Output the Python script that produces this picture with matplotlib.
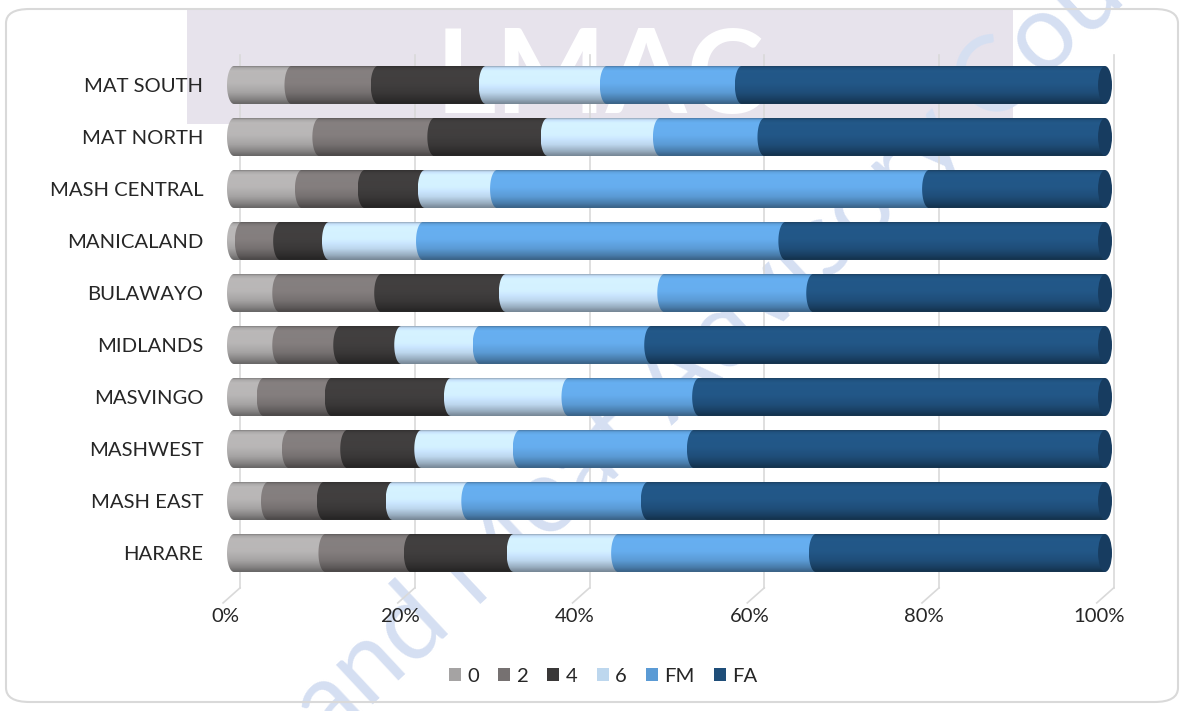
import numpy as np
import matplotlib
matplotlib.use("Agg")
import matplotlib.pyplot as plt
from matplotlib.path import Path
from matplotlib.patches import PathPatch, Ellipse, FancyBboxPatch, Rectangle
from matplotlib.transforms import ScaledTranslation
from matplotlib.colors import to_rgb

plt.rcParams['font.family'] = ['Lato', 'DejaVu Sans']

# provinces, bottom to top
provinces = ['HARARE', 'MASH EAST', 'MASHWEST', 'MASVINGO', 'MIDLANDS',
             'BULAWAYO', 'MANICALAND', 'MASH CENTRAL', 'MAT NORTH', 'MAT SOUTH']
series = ['0', '2', '4', '6', 'FM', 'FA']
colors = ['#A5A3A3', '#767171', '#3A3838', '#BDD7EE', '#5B9BD5', '#1F4E79']

# share of each class per province (%)
s0 = [10.5, 3.9, 6.3, 3.4, 5.2, 5.2, 0.9, 7.8, 9.8, 6.6]
s2 = [9.8, 6.4, 6.7, 7.8, 7.0, 11.7, 4.4, 7.2, 13.2, 9.9]
s4 = [11.8, 7.9, 8.5, 13.7, 7.0, 14.3, 5.6, 6.9, 13.0, 12.4]
s6 = [12.0, 8.7, 11.3, 13.5, 9.0, 18.2, 10.8, 8.3, 12.9, 13.9]
fm = [22.7, 20.6, 20.0, 15.0, 19.7, 17.1, 41.6, 49.6, 12.0, 15.5]
fa = [33.2, 52.5, 47.2, 46.6, 52.1, 33.5, 36.7, 20.2, 39.1, 41.7]

xticks = [0, 20, 40, 60, 80, 100]
xticklabels = ['0%', '20%', '40%', '60%', '80%', '100%']

W, H = 1184, 711
fig = plt.figure(figsize=(W / 100, H / 100), dpi=100)
fig.patch.set_facecolor('white')

# faint watermark behind the chart
fig.patches.append(Rectangle((187 / W, 1 - 124 / H), 826 / W, 114 / H,
                             transform=fig.transFigure, facecolor='#E7E3EC',
                             edgecolor='none', zorder=0))
fig.text(600 / W, 1 - 80 / H, 'LMAC', fontsize=84, fontweight='bold',
         color='white', ha='center', va='center', zorder=0.5)
fig.text(330 / W, 1 - 745 / H, 'and Meat Advisory Council', fontsize=76,
         color='#D5DFF2', rotation=43, rotation_mode='anchor',
         ha='left', va='baseline', zorder=0.6)

# rounded chart frame
fig.patches.append(FancyBboxPatch((6 / W, 9 / H), 1172 / W, 693 / H,
                                  boxstyle='round,pad=0,rounding_size=0.02',
                                  transform=fig.transFigure, facecolor='none',
                                  edgecolor='#D9D9D9', linewidth=1.5, zorder=1))

r = 0.8  # horizontal radius of the cylinder ends
ax = fig.add_axes([227 / W, 1 - 579 / H, 885 / W, 520 / H])
ax.set_facecolor('none')
ax.set_zorder(2)

# back-wall grid and floor lines
for v in xticks:
    gx = 0.7 + 1.003 * v
    ax.plot([gx, gx], [-0.67, 9.58], color='#D9D9D9', lw=1.2, zorder=0, clip_on=False)
    ax.plot([gx, gx - 1.95], [-0.67, -0.96], color='#D9D9D9', lw=1.2, zorder=0, clip_on=False)

# vertical light profile of a cylinder, top to bottom
prof_t = [0.0, 0.04, 0.12, 0.45, 0.70, 0.88, 1.0]
prof_f = [0.80, 1.04, 1.13, 1.12, 1.0, 0.80, 0.62]
t = np.linspace(0, 1, 60)
shade = np.interp(t, prof_t, prof_f)

def shaded(color):
    rgb = np.array(to_rgb(color))
    return np.clip(shade[:, None] * rgb[None, :], 0, 1)[:, None, :]

bar_h = 0.73
arc = np.linspace(np.pi / 2, 3 * np.pi / 2, 40)

values = [s0, s2, s4, s6, fm, fa]
for i, name in enumerate(provinces):
    left = 0.0
    y0, y1 = i - bar_h / 2, i + bar_h / 2
    for k, col in enumerate(colors):
        w = values[k][i]
        right = left + w
        img = ax.imshow(shaded(col), extent=(left - r, right, y0, y1),
                        aspect='auto', origin='upper', interpolation='bilinear', zorder=3)
        ex = left + r * np.cos(arc)
        ey = i + bar_h / 2 * np.sin(arc)
        verts = list(zip(ex, ey)) + [(right, y0), (right, y1), (ex[0], ey[0])]
        img.set_clip_path(PathPatch(Path(verts), transform=ax.transData))
        left = right
    ax.add_patch(Ellipse((left, i), 2 * r, bar_h, facecolor='#173C60',
                         edgecolor='none', zorder=4, clip_on=False))

ax.set_xlim(-r, 100 + r)
ax.set_ylim(-0.5, 9.5)
ax.set_yticks(range(len(provinces)))
ax.set_yticklabels(provinces)
ax.set_xticks(xticks)
ax.set_xticklabels(xticklabels)
ax.tick_params(axis='both', length=0, labelsize=14.6, colors='#262626')
ax.tick_params(axis='y', pad=17)
ax.tick_params(axis='x', pad=21)
for sp in ax.spines.values():
    sp.set_visible(False)

# percentage labels sit slightly left of the bar scale
for v, lab in zip(xticks, ax.get_xticklabels()):
    dx = (-9 + 0.03 * v) / 100
    lab.set_transform(lab.get_transform() + ScaledTranslation(dx, 0, fig.dpi_scale_trans))

handles = [Rectangle((0, 0), 1, 1, facecolor=c, edgecolor='none') for c in colors]
fig.legend(handles, series, loc='center', bbox_to_anchor=(603 / W, 1 - 676 / H),
           ncol=6, frameon=False, fontsize=14.6, handlelength=0.6, handleheight=0.6,
           handletextpad=0.3, columnspacing=0.95, labelcolor='#262626')

fig.savefig('out.png', dpi=100, facecolor='white')
